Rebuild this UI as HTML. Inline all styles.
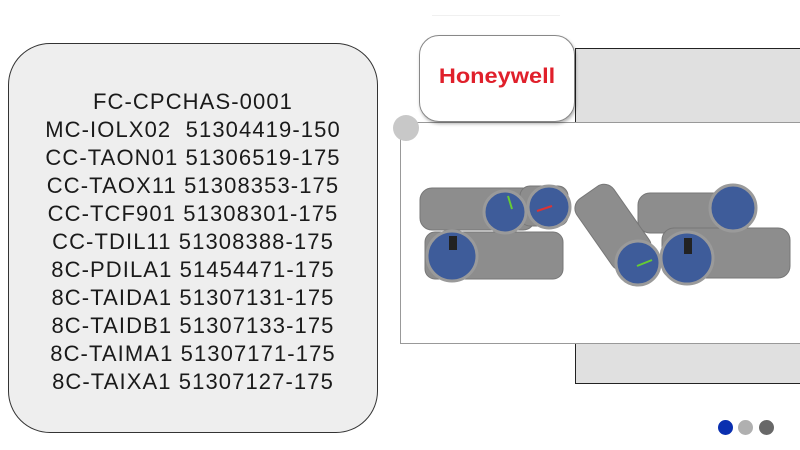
<!DOCTYPE html>
<html><head><meta charset="utf-8"><style>
html,body{margin:0;padding:0;background:#fff;}
body{width:800px;height:450px;position:relative;overflow:hidden;font-family:"Liberation Sans",sans-serif;}
.lbox{position:absolute;left:8px;top:43px;width:368px;height:388px;border:1.2px solid #333;border-radius:42px;background:#eeeeee;}
.txt{position:absolute;left:8px;top:88px;width:370px;text-align:center;font-size:22px;line-height:28px;letter-spacing:1.1px;color:#1a1a1a;white-space:pre;}
.gray{position:absolute;left:575px;top:48px;width:226px;height:336px;border:1.3px solid #222;background:#e0e0e0;box-sizing:border-box;}
.photo{position:absolute;left:400px;top:122px;width:402px;height:222px;border:1px solid #999;background:#fff;box-sizing:border-box;}
.logo{position:absolute;left:419px;top:35px;width:156px;height:87px;border:1px solid #888;border-radius:20px;background:#fff;box-shadow:1px 2px 3px rgba(0,0,0,.3);box-sizing:border-box;}
.logo span{position:absolute;left:0;right:0;top:29px;text-align:center;font-family:"Liberation Sans",sans-serif;font-weight:bold;font-size:21px;color:#e0202b;transform:scaleX(1.12);}
.circ{position:absolute;left:393px;top:115px;width:26px;height:26px;border-radius:50%;background:#c8c8c8;}
.dot{position:absolute;top:420px;width:15px;height:15px;border-radius:50%;}
.line{position:absolute;left:432px;top:15px;width:128px;height:1px;background:#f0f0f0;}
</style></head><body>
<div class="line"></div>
<div class="lbox"></div>
<div class="txt">FC-CPCHAS-0001
MC-IOLX02  51304419-150
CC-TAON01 51306519-175
CC-TAOX11 51308353-175
CC-TCF901 51308301-175
CC-TDIL11 51308388-175
8C-PDILA1 51454471-175
8C-TAIDA1 51307131-175
8C-TAIDB1 51307133-175
8C-TAIMA1 51307171-175
8C-TAIXA1 51307127-175</div>
<div class="gray"></div>
<div class="photo"></div>
<svg style="position:absolute;left:0;top:0" width="800" height="450">
<g fill="#8d8d8d" stroke="#777" stroke-width="1">
<rect x="420" y="188" width="115" height="42" rx="12"/>
<rect x="520" y="186" width="48" height="40" rx="10"/>
<rect x="425" y="232" width="138" height="47" rx="10"/>
<rect x="638" y="193" width="108" height="40" rx="12"/>
<rect x="662" y="228" width="128" height="50" rx="12"/>
<g transform="rotate(55 612 225)"><rect x="572" y="203" width="85" height="45" rx="12"/></g>
</g>
<g fill="#3e5c9a" stroke="#9a9a9a" stroke-width="3">
<circle cx="505" cy="212" r="21"/>
<circle cx="549" cy="207" r="21"/>
<circle cx="452" cy="256" r="25"/>
<circle cx="638" cy="263" r="22"/>
<circle cx="733" cy="208" r="23"/>
<circle cx="687" cy="258" r="26"/>
</g>
<rect x="449" y="236" width="8" height="14" fill="#222"/>
<rect x="684" y="238" width="8" height="16" fill="#222"/>
<line x1="508" y1="196" x2="512" y2="209" stroke="#6c3" stroke-width="2"/>
<line x1="537" y1="211" x2="552" y2="206" stroke="#d33" stroke-width="2"/>
<line x1="637" y1="266" x2="652" y2="260" stroke="#6c3" stroke-width="2"/>
</svg>
<div class="logo"><span>Honeywell</span></div>
<div class="circ"></div>
<div class="dot" style="left:718px;background:#0a2fb0"></div>
<div class="dot" style="left:738px;background:#b0b0b0"></div>
<div class="dot" style="left:759px;background:#686868"></div>
</body></html>
